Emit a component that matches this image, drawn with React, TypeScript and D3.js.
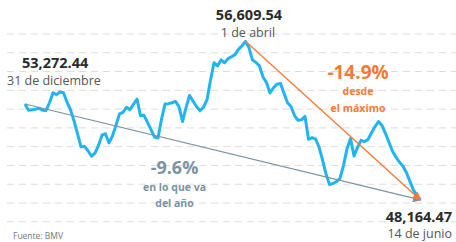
import * as d3 from "d3";

// IPC (BMV) closing values, 31 Dec to 14 Jun
const values = [
  53272.44, 52940, 52970, 52990, 53050, 52940, 52920, 53340, 53870, 53770,
  53910, 53870, 53370, 52970, 52380, 51690, 50990, 51020, 50780, 50490,
  50660, 51070, 51610, 51690, 51200, 51580, 52140, 52750, 52830, 53100,
  52970, 53260, 53530, 52650, 52670, 52290, 51910, 51510, 51460, 52460,
  53270, 53290, 53340, 53410, 53130, 52340, 53070, 53730, 53430, 53140,
  52910, 53100, 53500, 54540, 55470, 55300, 55620, 55470, 55690, 55790,
  55900, 56180, 56370, 56609.54, 56260, 55610, 55480, 55300, 54710, 54410,
  53860, 54140, 54330, 54370, 53840, 53340, 53140, 52660, 52400, 52430,
  52610, 51390, 51480, 51410, 50990, 50300, 49550, 48980, 49050, 49140,
  49320, 49990, 50890, 51430, 50510, 50960, 51340, 51270, 51380, 51740,
  52070, 52340, 52130, 51700, 51230, 50760, 50440, 50170, 49960, 49610,
  49140, 48690, 48410, 48164.47,
];

const gridTicks = [47000, 48000, 49000, 50000, 51000, 52000, 53000, 54000, 55000, 56000, 57000];

const startLabel = ["53,272.44", "31 de diciembre"];
const peakLabel = ["56,609.54", "1 de abril"];
const endLabel = ["48,164.47", "14 de junio"];
const dropLabel = ["-14.9%", "desde", "el máximo"];
const ytdLabel = ["-9.6%", "en lo que va", "del año"];
const source = "Fuente: BMV";

const W = 456;
const H = 242;
const FONT = "'Open Sans', sans-serif";
const BLUE = "#22b4f0";
const ORANGE = "#f47a3a";
const SLATE = "#7b93a3";

export default function App() {
  const x = d3.scaleLinear().domain([0, values.length - 1]).range([25, 420.5]);
  const y = d3.scaleLinear().domain([47000, 57000]).range([221.8, 34]);

  const line = d3
    .line<number>()
    .x((_, i) => x(i))
    .y((d) => y(d));

  const last = values.length - 1;
  const peakIdx = values.indexOf(d3.max(values) as number);

  const x0 = x(0), y0 = y(values[0]);
  const xp = x(peakIdx), yp = y(values[peakIdx]);
  const xe = x(last), ye = y(values[last]);

  return (
    <svg
      width={W}
      height={H}
      style={{ position: "absolute", left: 0, top: 0, background: "#fff" }}
      fontFamily={FONT}
    >
      <defs>
        <marker id="arrSlate" viewBox="0 0 10 10" refX="9" refY="5" markerWidth="7" markerHeight="7" orient="auto">
          <path d="M0,0 L10,5 L0,10 z" fill={SLATE} />
        </marker>
        <marker id="arrOrange" viewBox="0 0 10 10" refX="9" refY="5" markerWidth="6" markerHeight="6" orient="auto">
          <path d="M0,0 L10,5 L0,10 z" fill={ORANGE} />
        </marker>
      </defs>

      {/* grid */}
      {gridTicks.map((t) => (
        <line
          key={t}
          x1={7}
          x2={W}
          y1={y(t)}
          y2={y(t)}
          stroke="#dcdcdc"
          strokeWidth={1}
          strokeDasharray="7 5"
        />
      ))}

      {/* index line */}
      <path d={line(values) ?? ""} fill="none" stroke={BLUE} strokeWidth={3} strokeLinejoin="round" />

      {/* trend arrows */}
      <line x1={x0} y1={y0} x2={xe} y2={ye} stroke={SLATE} strokeWidth={1.2} markerEnd="url(#arrSlate)" />
      <line x1={xp} y1={yp} x2={xe} y2={ye} stroke={ORANGE} strokeWidth={1.4} markerEnd="url(#arrOrange)" />

      {/* start */}
      <text x={22} y={68} fontSize={14.5} fontWeight={700} fill="#2b2b2b">{startLabel[0]}</text>
      <text x={7} y={85} fontSize={12.5} fill="#555">{startLabel[1]}</text>

      {/* peak */}
      <text x={249} y={20} fontSize={14.5} fontWeight={700} fill="#2b2b2b" textAnchor="middle">{peakLabel[0]}</text>
      <text x={248} y={37} fontSize={12.5} fill="#555" textAnchor="middle">{peakLabel[1]}</text>

      {/* end */}
      <text x={452} y={222} fontSize={14.5} fontWeight={700} fill="#2b2b2b" textAnchor="end">{endLabel[0]}</text>
      <text x={452} y={238} fontSize={12.5} fill="#555" textAnchor="end">{endLabel[1]}</text>

      {/* drop from peak */}
      <text x={358} y={79} fontSize={19} fontWeight={700} fill={ORANGE} textAnchor="middle">{dropLabel[0]}</text>
      <text x={358} y={95} fontSize={10.5} fontWeight={700} fill={ORANGE} textAnchor="middle">{dropLabel[1]}</text>
      <text x={358} y={112} fontSize={10.5} fontWeight={700} fill={ORANGE} textAnchor="middle">{dropLabel[2]}</text>

      {/* year to date */}
      <text x={174.5} y={174} fontSize={18} fontWeight={700} fill={SLATE} textAnchor="middle">{ytdLabel[0]}</text>
      <text x={174.5} y={191} fontSize={10.5} fontWeight={700} fill={SLATE} textAnchor="middle">{ytdLabel[1]}</text>
      <text x={174.5} y={207} fontSize={10.5} fontWeight={700} fill={SLATE} textAnchor="middle">{ytdLabel[2]}</text>

      <text x={13} y={239} fontSize={8.5} fill="#777">{source}</text>
    </svg>
  );
}
